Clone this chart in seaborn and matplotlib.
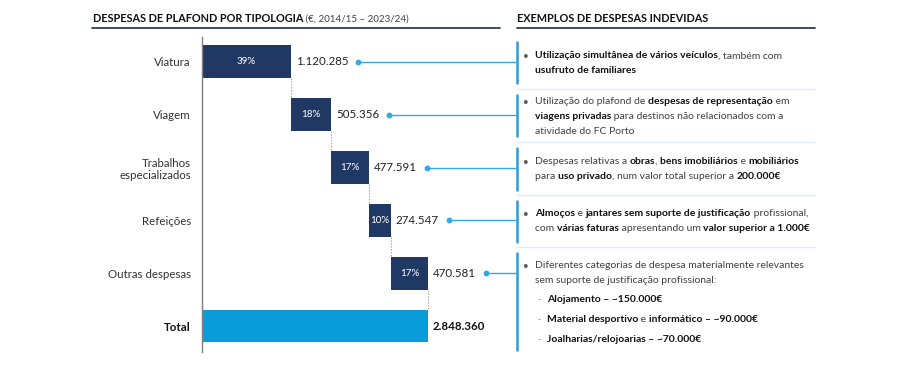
import numpy as np
import matplotlib
matplotlib.use("Agg")
import matplotlib.pyplot as plt
import seaborn as sns

# ── Data ──────────────────────────────────────────────────────────────────────
categories = ["Viatura", "Viagem", "Trabalhos\nespecializados", "Refeições",
              "Outras despesas", "Total"]
values = [1120285, 505356, 477591, 274547, 470581, 2848360]
value_labels = ["1.120.285", "505.356", "477.591", "274.547", "470.581", "2.848.360"]
shares = ["39%", "18%", "17%", "10%", "17%", ""]

examples = [
    [[("Utilização simultânea de vários veículos", True), (", também com", False)],
     [("usufruto de familiares", True)]],
    [[("Utilização do plafond de ", False), ("despesas de representação", True), (" em", False)],
     [("viagens privadas", True), (" para destinos não relacionados com a", False)],
     [("atividade do FC Porto", False)]],
    [[("Despesas relativas a ", False), ("obras", True), (", ", False),
      ("bens imobiliários", True), (" e ", False), ("mobiliários", True)],
     [("para ", False), ("uso privado", True), (", num valor total superior a ", False),
      ("200.000€", True)]],
    [[("Almoços", True), (" e ", False), ("jantares sem suporte de justificação", True),
      (" profissional,", False)],
     [("com ", False), ("várias faturas", True), (" apresentando um ", False),
      ("valor superior a 1.000€", True)]],
    [[("Diferentes categorias de despesa materialmente relevantes", False)],
     [("sem suporte de justificação profissional:", False)]],
]
sub_items = [
    [("Alojamento – ~150.000€", True)],
    [("Material desportivo", True), (" e ", False), ("informático – ~90.000€", True)],
    [("Joalharias/relojoarias – ~70.000€", True)],
]

NAVY = "#203864"
TOTAL = "#0A9BDB"
LINK = "#35A9DF"
GREY_TXT = "#404040"
DARK_TXT = "#111111"

sns.set_style("white")
plt.rcParams["font.family"] = ["Lato", "DejaVu Sans"]

fig = plt.figure(figsize=(9, 3.78), dpi=100)

# ── Waterfall ─────────────────────────────────────────────────────────────────
ax = fig.add_axes([202 / 900, 26 / 378, 300 / 900, 315 / 378])
ax.patch.set_visible(False)
starts = list(np.concatenate([[0], np.cumsum(values[:4]), [0]]))
palette = [NAVY] * 5 + [TOTAL]
sns.barplot(x=values, y=categories, hue=categories, palette=palette, legend=False,
            width=0.62, saturation=1, orient="h", ax=ax)
bars = sorted(ax.patches, key=lambda p: p.get_y())
for patch, s in zip(bars, starts):
    patch.set_x(s)
    patch.set_linewidth(0)

ax.set_xlim(0, values[-1] * 300 / 226)
ax.set_ylim(5.49, -0.47)
ax.set_xlabel("")
ax.set_ylabel("")
ax.set_xticks([])
for side in ["top", "right", "bottom"]:
    ax.spines[side].set_visible(False)
ax.spines["left"].set_color("#7F7F7F")
ax.spines["left"].set_linewidth(1.0)
ax.tick_params(axis="y", left=False, pad=4.5, labelsize=8.3, labelcolor="#333333")
for lab in ax.get_yticklabels():
    lab.set_multialignment("right")
    if lab.get_text() == "Total":
        lab.set_fontweight("bold")
        lab.set_color(DARK_TXT)

value_texts = []
for i, (s, v) in enumerate(zip(starts, values)):
    if shares[i]:
        ax.text(s + v / 2, i, shares[i], ha="center", va="center",
                color="white", fontsize=7.1)
    t = ax.annotate(value_labels[i], xy=(s + v, i), xytext=(3.5, 0),
                    textcoords="offset points", va="center", ha="left",
                    fontsize=8.3, color=DARK_TXT if i == 5 else "#222222",
                    fontweight="bold" if i == 5 else "normal")
    value_texts.append(t)
    if i < 5:
        ax.plot([s + v, s + v], [i + 0.31, i + 0.69], ls=":", lw=0.8,
                color="#8C8C8C")

# ── Overlay (pixel coordinates) ───────────────────────────────────────────────
ov = fig.add_axes([0, 0, 1, 1])
ov.set_xlim(0, 900)
ov.set_ylim(378, 0)
ov.axis("off")


def rich_line(x, y, segments, size=7.45):
    prev = None
    for text, bold in segments:
        kw = dict(fontsize=size, fontweight="bold" if bold else "normal",
                  color=DARK_TXT if bold else GREY_TXT)
        if prev is None:
            prev = ov.text(x, y, text, ha="left", va="center", **kw)
        else:
            prev = ov.annotate(text, xy=(1, 0), xycoords=prev,
                               ha="left", va="bottom", **kw)
    return prev


# titles
t1 = ov.text(93, 19, "DESPESAS DE PLAFOND POR TIPOLOGIA", fontsize=7.8,
             fontweight="bold", color=DARK_TXT, ha="left", va="center")
ov.annotate(" (€, 2014/15 – 2023/24)", xy=(1, 0.04), xycoords=t1, fontsize=7.0,
            color=GREY_TXT, ha="left", va="bottom")
ov.text(517, 19, "EXEMPLOS DE DESPESAS INDEVIDAS", fontsize=7.8,
        fontweight="bold", color=DARK_TXT, ha="left", va="center")
ov.plot([92, 500], [27.5, 27.5], color="#2C3B55", lw=1.3)
ov.plot([517, 815], [27.5, 27.5], color="#2C3B55", lw=1.3)

# boxes
box_spans = [(42, 83), (95, 136), (148, 190), (201, 242), (253, 350)]
first_line = [56, 102, 162, 214, 266]
line_gap = 14.5
for (top, bot) in box_spans:
    ov.plot([517, 517], [top, bot], color="#2E9BD6", lw=1.8)
for ysep in [89, 142, 195, 247]:
    ov.plot([517, 815], [ysep, ysep], color="#DCECF6", lw=1.0)

for k, lines in enumerate(examples):
    y0 = first_line[k]
    ov.text(523, y0, "•", fontsize=7.2, color="#595959", ha="left", va="center")
    for j, segs in enumerate(lines):
        rich_line(535, y0 + j * line_gap, segs)

for j, segs in enumerate(sub_items):
    y = 299 + j * 20
    ov.text(537, y + 1, "-", fontsize=6, color="#595959", ha="left", va="center")
    rich_line(547, y, segs)

# connectors from value labels to boxes
fig.canvas.draw()
renderer = fig.canvas.get_renderer()
inv = ov.transData.inverted()
for i in range(5):
    bb = value_texts[i].get_window_extent(renderer)
    x_end = inv.transform((bb.x1, 0))[0]
    y_mid = ax.transData.transform((0, i))
    y_pix = inv.transform(y_mid)[1]
    ov.plot([x_end + 10, 517], [y_pix, y_pix], color=LINK, lw=1.0)
    ov.plot([x_end + 10], [y_pix], "o", color=LINK, ms=3.2)

fig.savefig("out.png", dpi=100)
